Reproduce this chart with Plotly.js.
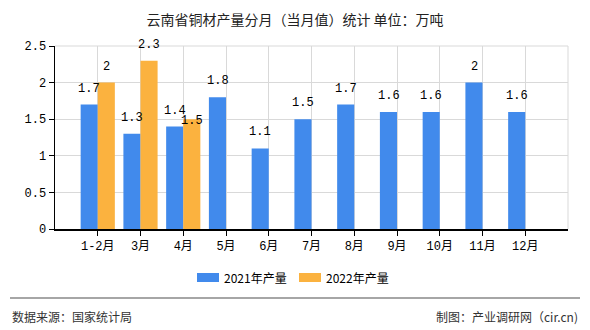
<!DOCTYPE html>
<html>
<head>
<meta charset="utf-8">
<script src="https://cdn.plot.ly/plotly-3.0.1.min.js"></script>
<style>html,body{margin:0;padding:0;background:#fff;}#chart{width:590px;height:330px;}</style>
</head>
<body>
<div id="chart"></div>
<script>
const categories = ["1-2月","3月","4月","5月","6月","7月","8月","9月","10月","11月","12月"];
const series2021 = [1.7,1.3,1.4,1.8,1.1,1.5,1.7,1.6,1.6,2,1.6];
const series2022 = [2,2.3,1.5,null,null,null,null,null,null,null,null];
const name2021 = "2021年产量";
const name2022 = "2022年产量";
const titleText = "云南省铜材产量分月（当月值）统计 单位：万吨";
const sourceText = "数据来源：国家统计局";
const makerText = "制图：产业调研网（cir.cn)";

const color2021 = "#418AEC";
const color2022 = "#FBB23F";
const monoFont = "Liberation Mono, DejaVu Sans Mono, Noto Sans CJK SC, monospace";
const cjkFont = "Noto Sans CJK SC, sans-serif";

const traces = [
  {type:"bar", name:name2021, x:categories, y:series2021, marker:{color:color2021}},
  {type:"bar", name:name2022, x:categories, y:series2022, marker:{color:color2022}}
];

// value labels built from the data arrays
const labelAnns = [];
function addLabels(vals, xshift, other){
  vals.forEach((v,i)=>{
    if(v==null) return;
    // label pushed down when it would collide with the neighbouring label
    const o = other[i];
    const collide = other === series2021 && o != null && Math.abs(o - v) < 0.15;
    labelAnns.push({text:String(v), x:categories[i], y:v, xref:"x", yref:"y",
      xanchor:"center", yanchor:"bottom", yshift:collide ? -11 : 7, xshift:xshift, showarrow:false,
      font:{family:monoFont, size:12, color:"#000"}});
  });
}
addLabels(series2021, -8.5, series2022);
addLabels(series2022, 8.5, series2021);

function px(x){return (x-55)/513;}
function py(y){return (229-y)/183;}

const layout = {
  width:590, height:330,
  margin:{l:55, r:22, t:46, b:101},
  paper_bgcolor:"#fff", plot_bgcolor:"#fff",
  title:{text:titleText, x:0.5, xanchor:"center", y:0.94, yanchor:"middle",
         font:{family:cjkFont, size:14, color:"#222"}},
  barmode:"group", bargap:0.2, bargroupgap:0,
  showlegend:false,
  xaxis:{type:"category", range:[-1,11], showgrid:true, gridcolor:"#d9d9d9",
         showline:true, linecolor:"#000", linewidth:1.5, ticks:"outside", ticklen:5,
         tickcolor:"#000", tickfont:{family:monoFont, size:12, color:"#000"},
         fixedrange:true, zeroline:false},
  yaxis:{range:[0,2.5], dtick:0.5, tick0:0, showgrid:true, gridcolor:"#d9d9d9",
         showline:true, linecolor:"#000", linewidth:1.5, ticks:"outside", ticklen:5,
         tickcolor:"#000", tickfont:{family:monoFont, size:12, color:"#000"},
         zeroline:false, fixedrange:true},
  shapes:[
    {type:"line", xref:"paper", yref:"paper", x0:1, x1:1, y0:0, y1:1, line:{color:"#d9d9d9", width:1}},
    {type:"line", xref:"paper", yref:"paper", x0:0, x1:1, y0:1, y1:1, line:{color:"#d9d9d9", width:1}},
    {type:"line", xref:"paper", yref:"paper", x0:px(10), x1:px(580), y0:py(298), y1:py(298), line:{color:"#888", width:1.5}},
    {type:"rect", xref:"paper", yref:"paper", x0:px(197), x1:px(219), y0:py(282), y1:py(273), fillcolor:color2021, line:{width:0}},
    {type:"rect", xref:"paper", yref:"paper", x0:px(299), x1:px(321), y0:py(282), y1:py(273), fillcolor:color2022, line:{width:0}}
  ],
  annotations:labelAnns.concat([
    {text:name2021, xref:"paper", yref:"paper", x:px(222), xanchor:"left", y:py(277.5), yanchor:"middle",
     showarrow:false, font:{family:cjkFont, size:12, color:"#000"}},
    {text:name2022, xref:"paper", yref:"paper", x:px(324), xanchor:"left", y:py(277.5), yanchor:"middle",
     showarrow:false, font:{family:cjkFont, size:12, color:"#000"}},
    {text:sourceText, xref:"paper", yref:"paper", x:px(10), xanchor:"left", y:py(316), yanchor:"middle",
     showarrow:false, font:{family:cjkFont, size:12, color:"#333"}},
    {text:makerText, xref:"paper", yref:"paper", x:px(580), xanchor:"right", y:py(316), yanchor:"middle",
     showarrow:false, font:{family:cjkFont, size:12, color:"#333"}}
  ])
};
Plotly.newPlot("chart", traces, layout, {displayModeBar:false, staticPlot:true});
</script>
</body>
</html>
